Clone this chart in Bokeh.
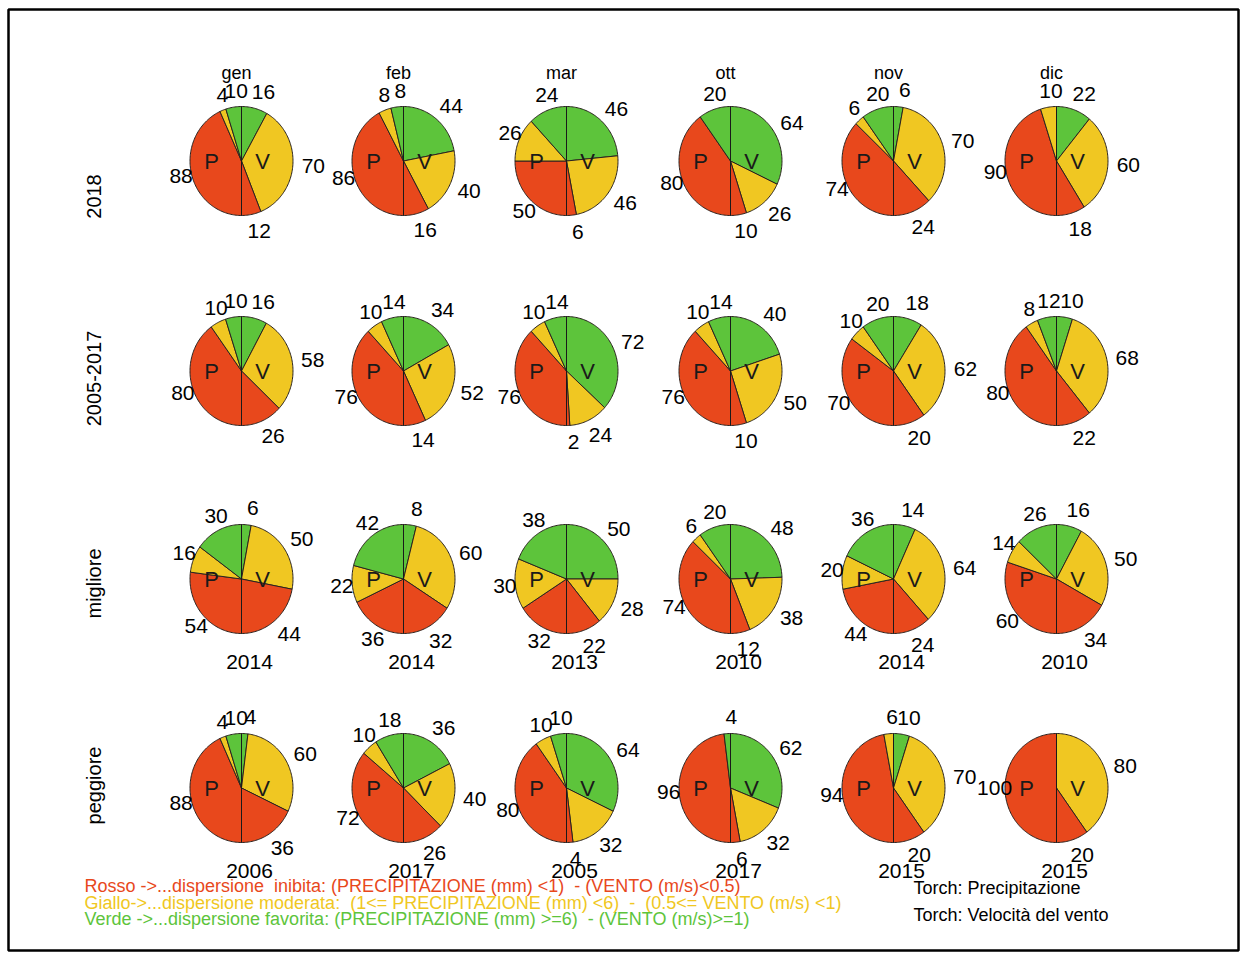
import math
import numpy as np
from bokeh.plotting import figure
from bokeh.models import Range1d, ColumnDataSource
from bokeh.embed import file_html
from bokeh.resources import INLINE
from bokeh.core.properties import value

# ---------------- data ----------------
months = ["gen", "feb", "mar", "ott", "nov", "dic"]
row_names = ["2018", "2005-2017", "migliore", "peggiore"]

# Precipitazione (left half "P"): rosso, giallo, verde
p_rosso = [[88, 86, 50, 80, 74, 90], [80, 76, 76, 76, 70, 80],
           [54, 36, 32, 74, 44, 60], [88, 72, 80, 96, 94, 100]]
p_giallo = [[4, 8, 26, 0, 6, 10], [10, 10, 10, 10, 10, 8],
            [16, 22, 30, 6, 20, 14], [4, 10, 10, 0, 6, 0]]
p_verde = [[10, 8, 24, 20, 20, 0], [10, 14, 14, 14, 20, 12],
           [30, 42, 38, 20, 36, 26], [10, 18, 10, 4, 0, 0]]
# Vento (right half "V"): verde, giallo, rosso
v_verde = [[16, 44, 46, 64, 6, 22], [16, 34, 72, 40, 18, 10],
           [6, 8, 50, 48, 14, 16], [4, 36, 64, 62, 10, 0]]
v_giallo = [[70, 40, 46, 26, 70, 60], [58, 52, 24, 50, 62, 68],
            [50, 60, 28, 38, 64, 50], [60, 40, 32, 32, 70, 80]]
v_rosso = [[12, 16, 6, 10, 24, 18], [26, 14, 2, 10, 20, 22],
           [44, 32, 22, 12, 24, 34], [36, 26, 4, 6, 20, 20]]

anni_migliore = ["2014", "2014", "2013", "2010", "2014", "2010"]
anni_peggiore = ["2006", "2017", "2005", "2017", "2015", "2015"]

NB = "\u00a0"
legend_lines = [
    "Rosso ->...dispersione " + NB + "inibita: (PRECIPITAZIONE (mm) <1) " + NB + "- (VENTO (m/s)<0.5)",
    "Giallo->...dispersione moderata: " + NB + "(1<= PRECIPITAZIONE (mm) <6) " + NB + "- " + NB + "(0.5<= VENTO (m/s) <1)",
    "Verde ->...dispersione favorita: (PRECIPITAZIONE (mm) >=6) " + NB + "- (VENTO (m/s)>=1)",
]
torch_lines = ["Torch: Precipitazione", "Torch: Velocità del vento"]

# ---------------- layout / style ----------------
RED, YEL, GRN = "#E8481C", "#F0C722", "#5DC43B"
FONT = "Liberation Sans"
W, H = 1242, 956
COL_X = [241, 403, 566, 730, 893, 1056]
ROW_Y = [160.5, 370.5, 578.5, 787.5]
RX, RY = 51.5, 54.5
LK = 1.3

p = figure(width=W, height=H, x_range=Range1d(0, W), y_range=Range1d(H, 0),
           output_backend="svg", toolbar_location=None, min_border=0)
p.axis.visible = False
p.grid.visible = False
p.outline_line_color = None
p.background_fill_color = "white"
p.border_fill_color = "white"

# outer frame of the picture
p.quad(left=[8], right=[1238], top=[9], bottom=[950], fill_color=None,
       line_color="black", line_width=2.5)

wx, wy, wc = [], [], []
lx, ly, lt = [], [], []
vx0, vy0, vx1, vy1 = [], [], [], []
pvx, pvy, pvt = [], [], []
yx, yy, yt = [], [], []

for r in range(4):
    for c in range(6):
        cx = COL_X[c]
        cy = ROW_Y[r]
        halves = [
            (0.0, [v_verde[r][c], v_giallo[r][c], v_rosso[r][c]], [GRN, YEL, RED]),
            (180.0, [p_rosso[r][c], p_giallo[r][c], p_verde[r][c]], [RED, YEL, GRN]),
        ]
        for start, vals, cols in halves:
            tot = float(sum(vals))
            a = start
            for v, col in zip(vals, cols):
                if v == 0:
                    continue
                span = v / tot * 180.0
                n = max(3, int(span / 1.5) + 2)
                ts = np.radians(np.linspace(a, a + span, n))
                wx.append([cx] + list(cx + RX * np.sin(ts)))
                wy.append([cy] + list(cy - RY * np.cos(ts)))
                wc.append(col)
                m = math.radians(a + span / 2)
                lx.append(cx + LK * RX * math.sin(m) + 5)
                ly.append(cy - LK * RY * math.cos(m))
                lt.append(str(v))
                a += span
        vx0.append(cx); vy0.append(cy - RY); vx1.append(cx); vy1.append(cy + RY)
        pvx += [cx - 30, cx + 21]; pvy += [cy + 0.5, cy + 0.5]; pvt += ["P", "V"]
        if r == 2:
            yx.append(cx + 8); yy.append(cy + 83); yt.append(anni_migliore[c])
        if r == 3:
            yx.append(cx + 8); yy.append(cy + 83); yt.append(anni_peggiore[c])

p.patches(xs="xs", ys="ys", fill_color="c", line_color="#2a2320", line_width=1,
          source=ColumnDataSource(dict(xs=wx, ys=wy, c=wc)))
p.segment(x0=vx0, y0=vy0, x1=vx1, y1=vy1, line_color="#1a1a1a", line_width=1)

p.text(x=lx, y=ly, text=lt, text_font=value(FONT), text_font_size="21px",
       text_align="center", text_baseline="middle", text_color="black")
p.text(x=pvx, y=pvy, text=pvt, text_font=value(FONT), text_font_size="22px",
       text_align="center", text_baseline="middle", text_color="#1a1a1a")
p.text(x=yx, y=yy, text=yt, text_font=value(FONT), text_font_size="21px",
       text_align="center", text_baseline="middle", text_color="black")

# column headers
p.text(x=[x - 5 for x in COL_X], y=[72] * 6, text=months,
       text_font=value(FONT), text_font_size="18px",
       text_align="center", text_baseline="middle", text_color="black")

# row labels (rotated)
ROW_LAB_Y = [196, 378, 583, 785]
p.text(x=[93] * 4, y=ROW_LAB_Y, text=row_names,
       angle=math.pi / 2, text_font=value(FONT), text_font_size="20px",
       text_align="center", text_baseline="middle", text_color="black")

# legend text
p.text(x=[84] * 3, y=[885, 902, 918], text=legend_lines,
       text_color=[RED, YEL, GRN], text_font=value(FONT), text_font_size="18px",
       text_align="left", text_baseline="middle")
p.text(x=[913] * 2, y=[887.5, 914.5], text=torch_lines,
       text_font=value(FONT), text_font_size="18px",
       text_align="left", text_baseline="middle", text_color="black")

open("out.html", "w").write(file_html(p, INLINE))
